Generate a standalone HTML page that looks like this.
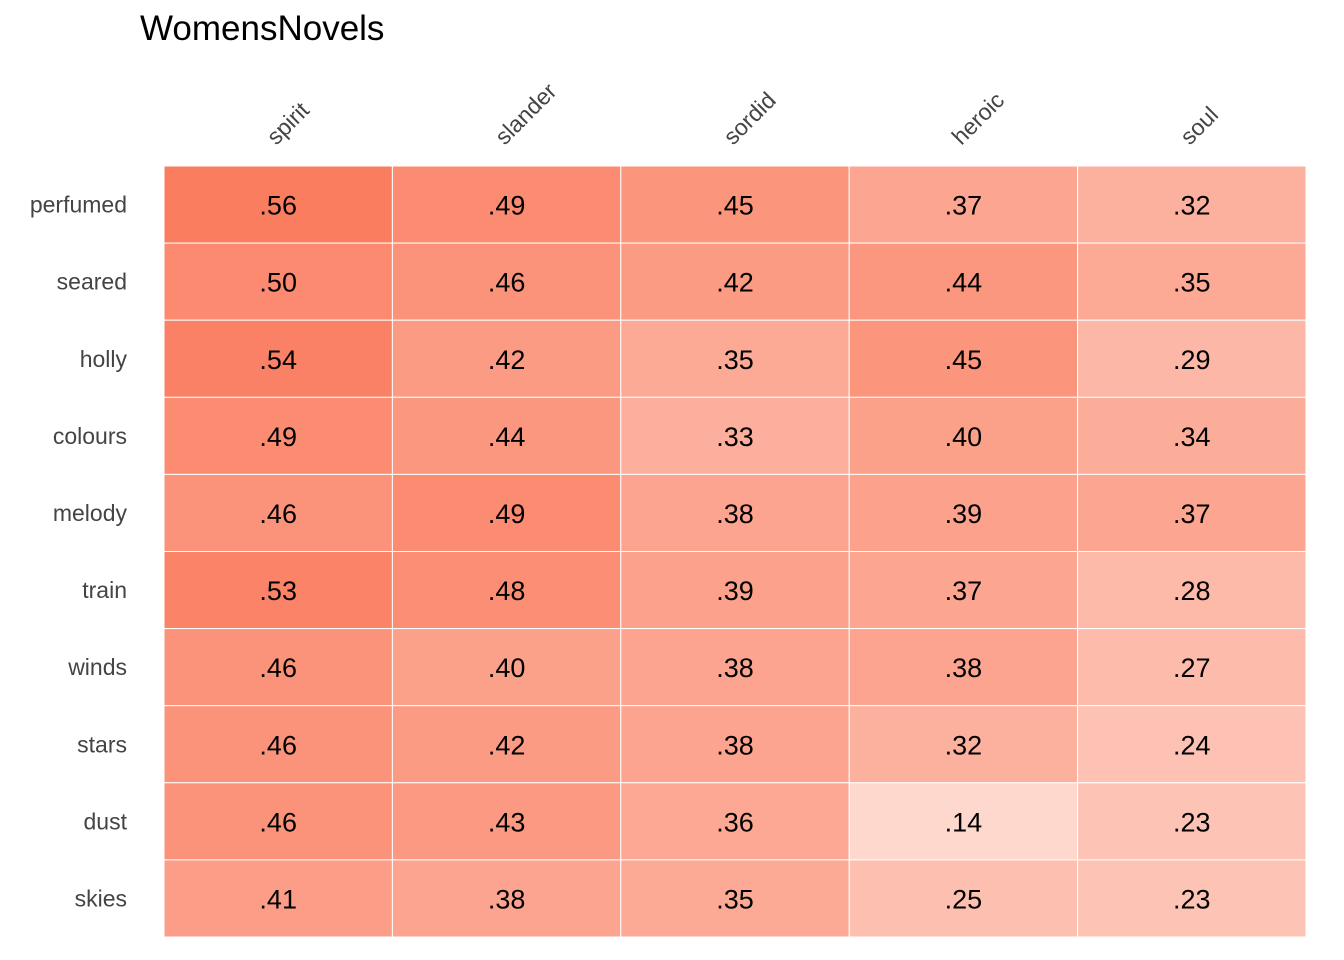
<!DOCTYPE html>
<html><head><meta charset="utf-8"><style>
body{margin:0;background:#fff;}
svg{display:block;font-family:"Liberation Sans",Arial,sans-serif;}
</style></head><body>
<svg id="chart" width="1344" height="960">
<text x="140" y="40" font-size="35" fill="#000">WomensNovels</text>
<g id="cells"></g><g id="labels"></g>
</svg>
<script>
const columns=["spirit","slander","sordid","heroic","soul"];
const rows=["perfumed","seared","holly","colours","melody","train","winds","stars","dust","skies"];
const values=[
[.56,.49,.45,.37,.32],
[.50,.46,.42,.44,.35],
[.54,.42,.35,.45,.29],
[.49,.44,.33,.40,.34],
[.46,.49,.38,.39,.37],
[.53,.48,.39,.37,.28],
[.46,.40,.38,.38,.27],
[.46,.42,.38,.32,.24],
[.46,.43,.36,.14,.23],
[.41,.38,.35,.25,.23]];
const NS="http://www.w3.org/2000/svg";
const x0=164,x1=1306,y0=166,y1=937;
const cw=(x1-x0)/columns.length, ch=(y1-y0)/rows.length;
const xPos=i=>x0+i*cw, yPos=j=>y0+j*ch;
function color(v){
  const t=Math.max(0,Math.min(1,v/0.56));
  const lo=[255,246,241], hi=[250,125,96];
  const c=lo.map((l,k)=>Math.round(l+(hi[k]-l)*t));
  return `rgb(${c[0]},${c[1]},${c[2]})`;
}
function fmt(v){return v.toFixed(2).replace(/^0/,"");}
const cells=document.getElementById("cells"), labels=document.getElementById("labels");
rows.forEach((r,j)=>{
  columns.forEach((c,i)=>{
    const v=values[j][i];
    const rect=document.createElementNS(NS,"rect");
    rect.setAttribute("x",xPos(i));rect.setAttribute("y",yPos(j));
    rect.setAttribute("width",cw);rect.setAttribute("height",ch);
    rect.setAttribute("fill",color(v));rect.setAttribute("stroke","#fff");rect.setAttribute("stroke-width","1");
    
    
    cells.appendChild(rect);
    const t=document.createElementNS(NS,"text");
    t.setAttribute("x",xPos(i)+cw/2);t.setAttribute("y",yPos(j)+ch/2+10);
    t.setAttribute("text-anchor","middle");t.setAttribute("font-size","27");t.setAttribute("fill","#000");
    t.textContent=fmt(v);
    
    
    cells.appendChild(t);
  });
  const l=document.createElementNS(NS,"text");
  l.setAttribute("x",127);l.setAttribute("y",yPos(j)+ch/2+8);
  l.setAttribute("text-anchor","end");l.setAttribute("font-size","23");l.setAttribute("fill","#444");
  l.textContent=r;
  
  
  labels.appendChild(l);
});
columns.forEach((c,i)=>{
  const l=document.createElementNS(NS,"text");
  const x=xPos(i)+cw/2-2, y=146;
  l.setAttribute("x",x);l.setAttribute("y",y);
  l.setAttribute("transform",`rotate(-45 ${x} ${y})`);
  l.setAttribute("font-size","23");l.setAttribute("fill","#444");
  l.textContent=c;
  
  
  labels.appendChild(l);
});
</script>
</body></html>
